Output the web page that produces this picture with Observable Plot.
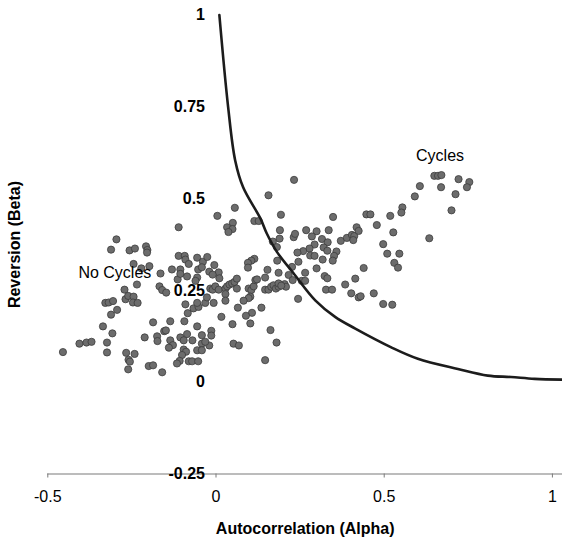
<!DOCTYPE html>
<html>
<head>
<meta charset="utf-8">
<script src="https://cdn.jsdelivr.net/npm/d3@7"></script>
<script src="https://cdn.jsdelivr.net/npm/@observablehq/plot@0.6"></script>
<style>
  html, body { margin: 0; padding: 0; background: #fff; }
  svg { display: block; }
</style>
</head>
<body>
<script>
// Scatter data: Autocorrelation (Alpha) vs Reversion (Beta)
const alpha = [
  -0.296,-0.312,-0.257,-0.241,-0.208,-0.204,-0.205,-0.111,-0.111,-0.093,-0.091,-0.081,-0.056,-0.039,
  -0.245,-0.222,-0.198,-0.131,-0.106,-0.053,-0.042,-0.455,-0.406,-0.385,-0.370,-0.324,-0.324,-0.336,
  -0.308,-0.312,-0.294,-0.329,-0.319,-0.306,-0.272,-0.269,-0.261,-0.245,-0.247,-0.233,-0.235,-0.267,
  -0.242,-0.260,-0.256,-0.261,-0.200,-0.187,-0.160,-0.212,-0.175,-0.174,-0.154,-0.149,-0.136,-0.128,
  -0.140,-0.187,-0.136,-0.094,-0.084,-0.067,-0.052,-0.091,-0.168,-0.160,-0.148,-0.165,-0.114,-0.056,
  -0.061,-0.056,-0.106,-0.086,-0.096,-0.070,-0.096,-0.089,-0.101,-0.108,-0.116,-0.042,-0.042,-0.056,
  -0.042,-0.081,-0.071,-0.053,-0.106,-0.086,-0.056,
  0.232,0.156,0.056,0.004,0.050,0.033,0.049,0.037,0.114,0.127,0.193,0.348,0.190,0.189,0.231,0.235,
  0.268,0.299,0.285,0.335,0.169,0.181,0.315,0.332,0.293,0.320,0.331,0.278,0.259,0.242,0.358,0.351,
  0.347,0.280,0.293,0.317,0.371,0.389,0.404,0.411,0.408,0.418,0.424,0.182,0.245,0.226,0.299,0.265,
  0.186,0.153,-0.026,-0.005,-0.020,0.008,0.114,0.105,0.095,0.095,
  0.649,0.660,0.670,0.721,0.753,0.746,0.606,0.669,0.591,0.712,0.700,0.554,0.551,0.447,0.459,0.518,
  0.478,0.527,0.634,0.497,0.509,0.545,0.530,0.541,0.439,0.414,0.424,0.430,0.469,0.497,0.524,
  -0.010,0.010,-0.017,-0.010,-0.002,0.008,0.028,0.033,0.040,0.048,0.055,0.062,0.062,0.028,0.028,
  0.097,0.105,0.112,0.117,0.122,0.102,0.097,0.082,0.146,0.146,0.156,0.164,0.171,0.178,0.186,0.186,
  0.204,0.208,0.216,0.228,0.255,0.265,0.244,0.323,0.331,0.327,0.345,0.384,0.402,0.194,-0.032,-0.007,
  -0.027,0.065,0.135,0.107,0.089,0.016,0.102,0.049,-0.014,-0.014,-0.020,-0.032,0.162,0.180,0.052,
  0.068,0.146
];
const beta = [
  0.389,0.361,0.359,0.364,0.370,0.360,0.353,0.422,0.344,0.344,0.334,0.322,0.339,0.328,
  0.322,0.310,0.316,0.307,0.307,0.307,0.313,0.082,0.105,0.108,0.110,0.108,0.081,0.152,
  0.133,0.184,0.197,0.216,0.217,0.221,0.252,0.226,0.235,0.233,0.217,0.216,0.266,0.080,
  0.077,0.061,0.056,0.035,0.044,0.046,0.027,0.122,0.125,0.112,0.139,0.141,0.114,0.101,
  0.094,0.163,0.166,0.166,0.188,0.201,0.205,0.212,0.261,0.251,0.244,0.296,0.280,0.285,
  0.276,0.152,0.122,0.131,0.114,0.114,0.089,0.083,0.074,0.058,0.051,0.128,0.105,0.087,
  0.087,0.057,0.057,0.057,0.295,0.288,0.216,
  0.551,0.509,0.475,0.453,0.434,0.422,0.417,0.409,0.439,0.439,0.456,0.450,0.414,0.391,0.395,0.404,
  0.414,0.411,0.397,0.414,0.383,0.368,0.390,0.381,0.375,0.367,0.358,0.364,0.357,0.353,0.356,0.344,
  0.331,0.345,0.344,0.334,0.385,0.393,0.401,0.398,0.387,0.422,0.412,0.331,0.328,0.314,0.310,0.298,
  0.298,0.306,0.341,0.319,0.301,0.299,0.336,0.331,0.325,0.312,
  0.562,0.562,0.564,0.553,0.545,0.531,0.534,0.531,0.506,0.512,0.468,0.476,0.462,0.457,0.457,0.453,
  0.428,0.408,0.392,0.376,0.350,0.350,0.325,0.312,0.311,0.282,0.231,0.234,0.242,0.213,0.211,
  0.293,0.283,0.255,0.252,0.261,0.252,0.255,0.261,0.266,0.269,0.273,0.282,0.255,0.240,0.222,
  0.255,0.251,0.261,0.278,0.280,0.233,0.229,0.222,0.285,0.252,0.252,0.260,0.264,0.255,0.260,0.269,
  0.267,0.260,0.292,0.278,0.276,0.276,0.227,0.289,0.283,0.252,0.252,0.266,0.242,0.263,0.216,0.216,
  0.231,0.203,0.203,0.189,0.181,0.178,0.160,0.158,0.140,0.127,0.100,0.110,0.142,0.108,0.105,
  0.100,0.060
];

// Boundary curve between "No Cycles" and "Cycles"
const curveAlpha = [0.010,0.036,0.057,0.081,0.132,0.151,0.181,0.231,0.295,0.354,0.414,0.521,0.600,0.719,0.808,0.877,0.947,1.029];
const curveBeta  = [1.000,0.750,0.604,0.530,0.446,0.405,0.355,0.296,0.223,0.178,0.146,0.095,0.064,0.036,0.018,0.014,0.009,0.007];

const xTicks = [-0.5, 0, 0.5, 1];
const xTickLabels = ["-0.5", "0", "0.5", "1"];
const yTicks = [-0.25, 0, 0.25, 0.5, 0.75, 1];
const yTickLabels = ["-0.25", "0", "0.25", "0.5", "0.75", "1"];

const xTitle = "Autocorrelation (Alpha)";
const yTitle = "Reversion (Beta)";
const cyclesLabel = {t: "Cycles", a: 0.666, b: 0.617};
const noCyclesLabel = {t: "No Cycles", a: -0.409, b: 0.299};

const points = alpha.map((a, i) => ({a, b: beta[i]}));
const curve = curveAlpha.map((a, i) => ({a, b: curveBeta[i]}));

const FONT = "'Liberation Sans', Arial, sans-serif";

const chart = Plot.plot({
  width: 562,
  height: 539,
  marginLeft: 47.3,
  marginRight: 0,
  marginTop: 14.5,
  marginBottom: 65.5,
  style: {fontFamily: FONT, background: "#fff", color: "#000"},
  x: {domain: [-0.5, 1.03], axis: null},
  y: {domain: [-0.25, 1], axis: null},
  marks: [
    Plot.ruleY([-0.25], {stroke: "#7a7a7a", strokeWidth: 1.2}),
    Plot.axisX(xTicks, {
      label: null, tickSize: 4, tickPadding: 13, fontSize: 16, stroke: "#7a7a7a",
      tickFormat: (d) => xTickLabels[xTicks.indexOf(d)], fill: "#000"
    }),
    Plot.dot(points, {x: "a", y: "b", r: 3.6, fill: "#6c6c6c", stroke: "#3c3c3c", strokeWidth: 0.8}),
    Plot.line(curve, {x: "a", y: "b", stroke: "#1c1c1c", strokeWidth: 2.6, curve: "catmull-rom"}),
    Plot.text(yTicks, {
      x: 0, y: (d) => d, text: (d, i) => yTickLabels[i],
      textAnchor: "end", dx: -11, fontWeight: "bold", fontSize: 16, fill: "#000"
    }),
    Plot.text([cyclesLabel], {x: "a", y: "b", text: "t", textAnchor: "middle", fontSize: 16, fill: "#000"}),
    Plot.text([noCyclesLabel], {x: "a", y: "b", text: "t", textAnchor: "start", fontSize: 16, fill: "#000"}),
    Plot.text([xTitle], {frameAnchor: "bottom", lineAnchor: "middle", textAnchor: "middle", dy: 55, fontWeight: "bold", fontSize: 16, fill: "#000"}),
    Plot.text([yTitle], {frameAnchor: "left", lineAnchor: "middle", textAnchor: "middle", dx: -33, rotate: -90, fontWeight: "bold", fontSize: 16, fill: "#000"})
  ]
});
document.body.appendChild(chart);
</script>
</body>
</html>
